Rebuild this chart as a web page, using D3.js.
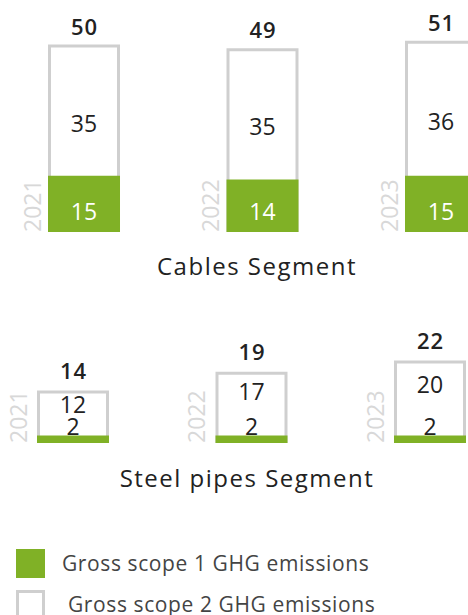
<!DOCTYPE html>
<html>
<head>
<meta charset="utf-8">
<script src="https://cdn.jsdelivr.net/npm/d3@7"></script>
<style>
  body { margin: 0; background: #fff; }
  text { font-family: "Open Sans", sans-serif; }
</style>
</head>
<body>
<svg width="468" height="615"></svg>
<script>
const WIDTH = 468
const HEIGHT = 615
const GREEN = "#80b126"
const BORDER = "#cfcfcf"
const DARK = "#222222"
const UNIT = 3.75 // px per tonne unit, same for both panels

// data
const years = ["2021", "2022", "2023"]
const cablesScope1 = [15, 14, 15]
const cablesScope2 = [35, 35, 36]
const cablesTotal = [50, 49, 51]
const pipesScope1 = [2, 2, 2]
const pipesScope2 = [12, 17, 20]
const pipesTotal = [14, 19, 22]
const legendLabels = ["Gross scope 1 GHG emissions", "Gross scope 2 GHG emissions"]

const svg = d3.select("svg")

function panel(opts) {
    const g = svg.append("g")

    const x = d3.scaleBand()
        .domain(years)
        .range([opts.left, opts.left + 429])
        .paddingInner(0.5966)
        .paddingOuter(0)

    const y = d3.scaleLinear()
        .domain([0, 60])
        .range([opts.bottom, opts.bottom - 60 * UNIT])

    const rows = years.map((yr, i) => ({
        year: yr,
        s1: opts.s1[i],
        s2: opts.s2[i],
        total: opts.total[i]
    }))

    const bars = g.selectAll("g.bar")
        .data(rows)
        .enter()
        .append("g")
        .classed("bar", true)

    // outline of the whole bar (scope 2 box)
    bars.append("rect")
        .attr("x", d => x(d.year) + 1.5)
        .attr("y", d => y(d.total) + 1.5)
        .attr("width", x.bandwidth() - 3)
        .attr("height", d => y(0) - y(d.total) - 3)
        .attr("fill", "none")
        .attr("stroke", BORDER)
        .attr("stroke-width", 3)

    // scope 1 fill
    bars.append("rect")
        .attr("x", d => x(d.year))
        .attr("y", d => y(d.s1))
        .attr("width", x.bandwidth())
        .attr("height", d => y(0) - y(d.s1))
        .attr("fill", GREEN)

    // totals
    bars.append("text")
        .attr("x", d => x(d.year) + x.bandwidth() / 2 + 0.5)
        .attr("y", d => y(d.total) - opts.totalGap)
        .attr("text-anchor", "middle")
        .attr("font-size", 22)
        .attr("font-weight", 600)
        .attr("letter-spacing", 1)
        .attr("fill", DARK)
        .text(d => d.total)

    // scope 2 value
    bars.append("text")
        .attr("x", d => x(d.year) + x.bandwidth() / 2)
        .attr("y", d => y(d.s1 + d.s2 * opts.s2Pos))
        .attr("dy", "0.36em")
        .attr("text-anchor", "middle")
        .attr("font-size", 23)
        .attr("fill", DARK)
        .text(d => d.s2)

    // scope 1 value
    bars.append("text")
        .attr("x", d => x(d.year) + x.bandwidth() / 2)
        .attr("y", d => y(0) - opts.s1Off)
        .attr("text-anchor", "middle")
        .attr("font-size", 23)
        .attr("fill", opts.s1Color)
        .text(d => d.s1)

    // year labels, rotated
    bars.append("text")
        .attr("transform", d => "translate(" + [x(d.year) - opts.yearGap, y(0)] + ") rotate(-90)")
        .attr("font-size", 23)
        .attr("fill", "#d8d8d8")
        .text(d => d.year)

    g.append("text")
        .attr("x", opts.titleX)
        .attr("y", opts.titleY)
        .attr("text-anchor", "middle")
        .attr("font-size", 24)
        .attr("letter-spacing", 1.5)
        .attr("fill", DARK)
        .text(opts.title)
}

panel({
    left: 48, bottom: 232,
    s1: cablesScope1, s2: cablesScope2, total: cablesTotal,
    s2Pos: 0.4, s1Off: 12, s1Color: "#ffffff",
    totalGap: 10, yearGap: 7,
    title: "Cables Segment", titleX: 257, titleY: 275
})

panel({
    left: 37, bottom: 443,
    s1: pipesScope1, s2: pipesScope2, total: pipesTotal,
    s2Pos: 0.68, s1Off: 8, s1Color: DARK,
    totalGap: 12, yearGap: 10,
    title: "Steel pipes Segment", titleX: 247, titleY: 487
})

// legend
const legend = svg.append("g")
const ly = d3.scalePoint().domain(legendLabels).range([563, 604])

legend.selectAll("rect")
    .data(legendLabels)
    .enter()
    .append("rect")
    .attr("x", (d, i) => i ? 17.5 : 16)
    .attr("y", (d, i) => ly(d) - 14 + (i ? 1.5 : 0))
    .attr("width", (d, i) => i ? 26 : 29)
    .attr("height", (d, i) => i ? 26 : 29)
    .attr("fill", (d, i) => i ? "none" : GREEN)
    .attr("stroke", (d, i) => i ? BORDER : "none")
    .attr("stroke-width", 3)

legend.selectAll("text")
    .data(legendLabels)
    .enter()
    .append("text")
    .attr("x", (d, i) => i ? 68 : 62)
    .attr("y", d => ly(d) + 8)
    .attr("font-size", 21)
    .attr("letter-spacing", 0.6)
    .attr("fill", "#444")
    .text(d => d)
</script>
</body>
</html>
